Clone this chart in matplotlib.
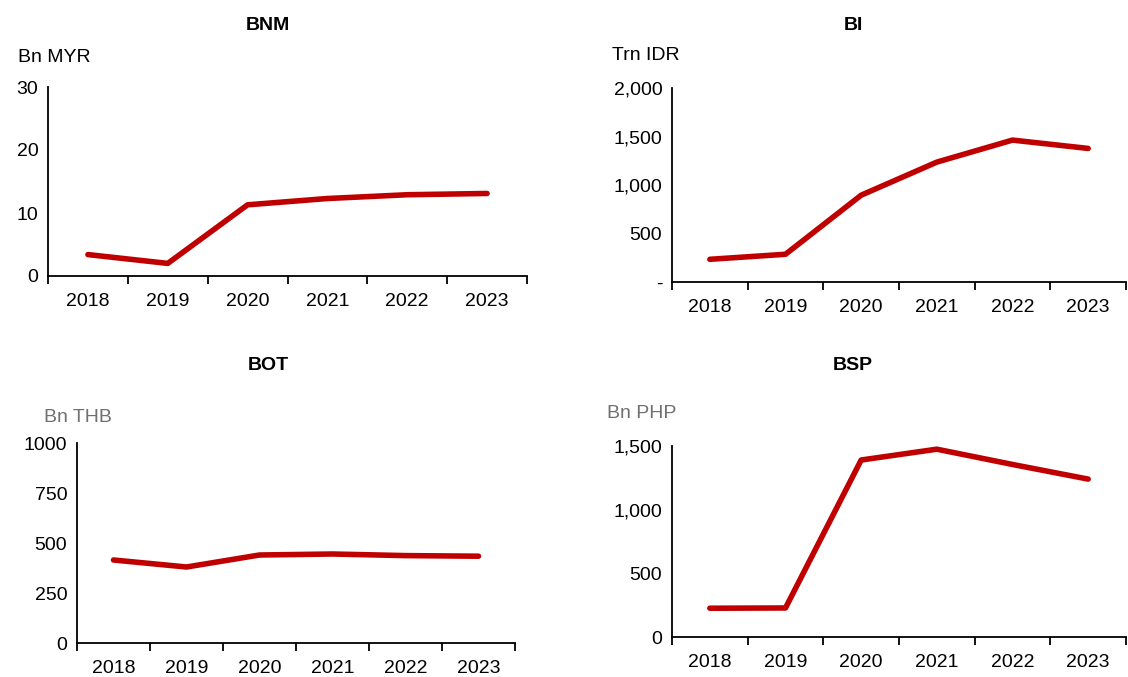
import numpy as np
import matplotlib
matplotlib.use('Agg')
import matplotlib.pyplot as plt
from matplotlib.ticker import FuncFormatter, FixedLocator

plt.rcParams['font.family'] = ['Liberation Sans', 'DejaVu Sans']

# Data
years = ['2018', '2019', '2020', '2021', '2022', '2023']
bnm = [3.4, 2.0, 11.3, 12.3, 12.9, 13.1]        # Bn MYR
bi = [234, 286, 895, 1236, 1463, 1377]           # Trn IDR
bot = [415, 380, 440, 445, 437, 434]             # Bn THB
bsp = [226, 228, 1390, 1475, 1355, 1240]         # Bn PHP

red = '#C00000'
fs = 14

fig = plt.figure(figsize=(11.28, 6.77), dpi=100)


def px(l, r, t, b):
    W, H = 1128.0, 677.0
    return [l / W, (H - b) / H, (r - l) / W, (b - t) / H]


def panel(rect, vals, ymax, yticks, fmt):
    ax = fig.add_axes(rect)
    x = np.arange(len(vals)) + 0.5
    ax.plot(x, vals, color=red, lw=4.0, solid_capstyle='round',
            solid_joinstyle='round', clip_on=False)
    ax.set_xlim(0, len(vals))
    ax.set_ylim(0, ymax)
    ax.spines['top'].set_visible(False)
    ax.spines['right'].set_visible(False)
    for s in ('left', 'bottom'):
        ax.spines[s].set_linewidth(1.3)
    ax.xaxis.set_major_locator(FixedLocator(np.arange(len(vals) + 1)))
    ax.xaxis.set_minor_locator(FixedLocator(x))
    ax.set_xticklabels([], minor=False)
    ax.set_xticklabels(years, minor=True, fontsize=fs)
    ax.tick_params(axis='x', which='major', direction='out', length=6, width=1.3)
    ax.tick_params(axis='x', which='minor', length=0, pad=12)
    ax.set_yticks(yticks)
    ax.yaxis.set_major_formatter(FuncFormatter(fmt))
    ax.tick_params(axis='y', length=0, labelsize=fs, pad=7)
    return ax


plain = lambda v, p: '%d' % v
comma = lambda v, p: '{:,.0f}'.format(v)
dash = lambda v, p: '-' if v == 0 else '{:,.0f}'.format(v)

panel(px(48, 527, 87, 276), bnm, 30, [0, 10, 20, 30], plain)
panel(px(672, 1126, 88, 282), bi, 2000, [0, 500, 1000, 1500, 2000], dash)
panel(px(77, 515, 443, 643), bot, 1000, [0, 250, 500, 750, 1000], plain)
panel(px(672, 1126, 446, 637), bsp, 1500, [0, 500, 1000, 1500], comma)

W, H = 1128.0, 677.0
def ftext(x, y, s, **kw):
    fig.text(x / W, 1 - y / H, s, fontsize=fs, va='center', **kw)

ftext(268, 25, 'BNM', ha='center', fontweight='bold')
ftext(853, 25, 'BI', ha='center', fontweight='bold')
ftext(268, 366, 'BOT', ha='center', fontweight='bold')
ftext(853, 366, 'BSP', ha='center', fontweight='bold')

ftext(18, 58, 'Bn MYR', ha='left')
ftext(612, 55, 'Trn IDR', ha='left')
ftext(44, 418, 'Bn THB', ha='left', color='#707070')
ftext(607, 414, 'Bn PHP', ha='left', color='#707070')

fig.savefig('out.png', dpi=100, facecolor='white')
